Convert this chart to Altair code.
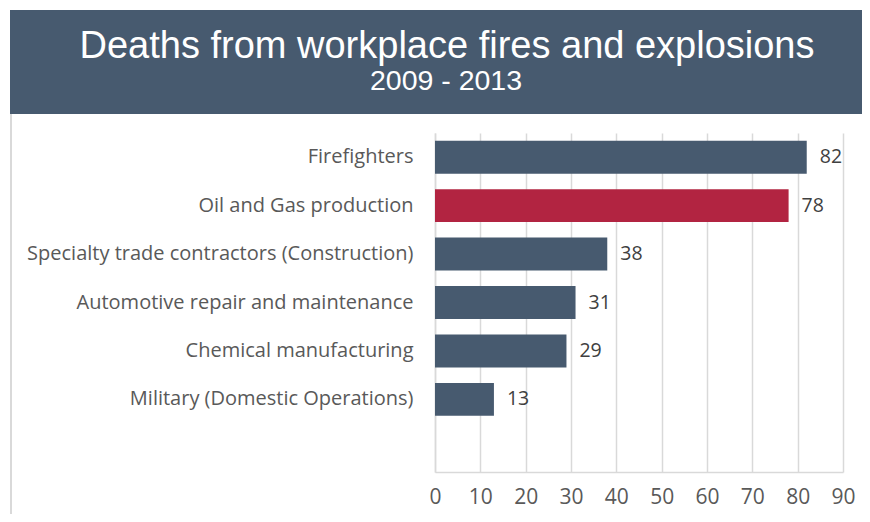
import altair as alt
import pandas as pd

categories = [
    "Firefighters",
    "Oil and Gas production",
    "Specialty trade contractors (Construction)",
    "Automotive repair and maintenance",
    "Chemical manufacturing",
    "Military (Domestic Operations)",
]
values = [82, 78, 38, 31, 29, 13]
highlight = [False, True, False, False, False, False]
domain = categories + [" "]

SLATE = "#475a6f"
RED = "#b22441"

df = pd.DataFrame({"cat": categories, "val": values, "hl": highlight})

W, H = 408, 339
PL, PT = 427, 125

base = alt.Chart(df)

y = alt.Y("cat:N", sort=domain, scale=alt.Scale(domain=domain, paddingInner=0.32, paddingOuter=0.16), title=None,
          axis=alt.Axis(labelFont="Open Sans", labelFontSize=20, labelColor="#595959", labelPadding=22,
                        ticks=False, domainColor="#d9d9d9", domainWidth=1.5, labelLimit=500))
x = alt.X("val:Q", scale=alt.Scale(domain=[0, 90], nice=False), title=None,
          axis=alt.Axis(values=list(range(0, 91, 10)), labelFont="Open Sans", labelFontSize=21,
                        labelColor="#595959", labelPadding=14, labelFlush=False, ticks=False,
                        domainColor="#d9d9d9", domainWidth=1.5, gridColor="#d9d9d9", gridWidth=1.5))

bars = base.mark_bar().encode(
    y=y, x=x,
    color=alt.Color("hl:N", scale=alt.Scale(domain=[False, True], range=[SLATE, RED]), legend=None),
)
labels = base.mark_text(align="left", dx=13, font="Open Sans", fontSize=19.5, color="#404040").encode(
    y=alt.Y("cat:N", sort=domain), x="val:Q", text="val:Q"
)

one = pd.DataFrame({"a": [0]})
banner = alt.Chart(one).mark_rect(color=SLATE, clip=False).encode(
    x=alt.value(-PL + 2), x2=alt.value(W + 40), y=alt.value(-PT + 2), y2=alt.value(-19)
)
title1 = alt.Chart(one).mark_text(
    text="Deaths from workplace fires and explosions", font="Liberation Sans", fontSize=38,
    color="white", align="center", baseline="alphabetic").encode(x=alt.value(12), y=alt.value(-75))
title2 = alt.Chart(one).mark_text(
    text="2009 - 2013", font="Liberation Sans", fontSize=28.5, color="white", align="center",
    baseline="alphabetic").encode(x=alt.value(11), y=alt.value(-43))
border = alt.Chart(one).mark_rule(color="#d9d9d9", strokeWidth=2).encode(
    x=alt.value(-PL + 3), y=alt.value(-19), y2=alt.value(H + 80)
)

chart = alt.layer(banner, border, title1, title2, bars, labels).properties(
    width=W, height=H,
    padding={"left": PL, "top": PT, "right": 19, "bottom": 42},
    autosize=alt.AutoSizeParams(type="none"),
).configure_view(stroke=None)

chart.save("out.html", embed_options={"renderer": "svg", "actions": False})
